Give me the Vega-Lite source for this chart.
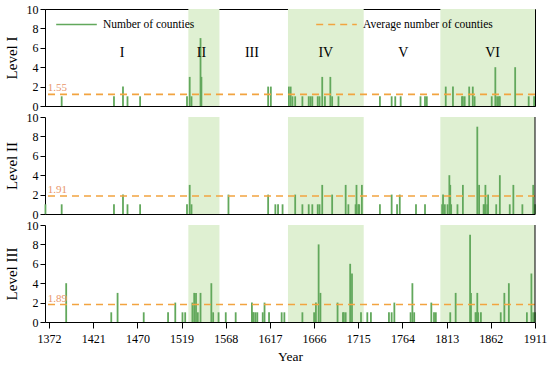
{
  "$schema": "https://vega.github.io/schema/vega-lite/v6.json",
  "padding": {"left": 3, "top": 2, "right": 5, "bottom": 2},
  "bounds": "flush",
  "config": {
    "font": "Liberation Serif",
    "axis": {"labelColor": "black", "titleColor": "black", "domainColor": "black", "tickColor": "black", "labelFont": "Liberation Serif", "titleFont": "Liberation Serif", "grid": false, "labelOverlap": false},
    "legend": {"labelFont": "Liberation Serif"}
  },
  "datasets": {
    "bars": [
      {"level": "I", "year": 1386, "count": 1}, {"level": "I", "year": 1444, "count": 1}, {"level": "I", "year": 1454, "count": 2}, {"level": "I", "year": 1459, "count": 1}, {"level": "I", "year": 1473, "count": 1}, {"level": "I", "year": 1525, "count": 1}, {"level": "I", "year": 1528, "count": 3}, {"level": "I", "year": 1530, "count": 1}, {"level": "I", "year": 1540, "count": 7}, {"level": "I", "year": 1541, "count": 3}, {"level": "I", "year": 1615, "count": 2}, {"level": "I", "year": 1618, "count": 2}, {"level": "I", "year": 1638, "count": 2}, {"level": "I", "year": 1640, "count": 2}, {"level": "I", "year": 1642, "count": 1}, {"level": "I", "year": 1645, "count": 1}, {"level": "I", "year": 1653, "count": 1}, {"level": "I", "year": 1660, "count": 1}, {"level": "I", "year": 1662, "count": 1}, {"level": "I", "year": 1664, "count": 1}, {"level": "I", "year": 1670, "count": 1}, {"level": "I", "year": 1672, "count": 1}, {"level": "I", "year": 1675, "count": 3}, {"level": "I", "year": 1678, "count": 1}, {"level": "I", "year": 1684, "count": 3}, {"level": "I", "year": 1686, "count": 1}, {"level": "I", "year": 1693, "count": 1}, {"level": "I", "year": 1739, "count": 1}, {"level": "I", "year": 1752, "count": 1}, {"level": "I", "year": 1756, "count": 1}, {"level": "I", "year": 1762, "count": 1}, {"level": "I", "year": 1784, "count": 1}, {"level": "I", "year": 1789, "count": 1}, {"level": "I", "year": 1791, "count": 1}, {"level": "I", "year": 1812, "count": 2}, {"level": "I", "year": 1820, "count": 2}, {"level": "I", "year": 1830, "count": 1}, {"level": "I", "year": 1831, "count": 1}, {"level": "I", "year": 1833, "count": 1}, {"level": "I", "year": 1838, "count": 2}, {"level": "I", "year": 1842, "count": 2}, {"level": "I", "year": 1844, "count": 1}, {"level": "I", "year": 1863, "count": 1}, {"level": "I", "year": 1867, "count": 4}, {"level": "I", "year": 1869, "count": 1}, {"level": "I", "year": 1871, "count": 1}, {"level": "I", "year": 1872, "count": 1}, {"level": "I", "year": 1889, "count": 4}, {"level": "I", "year": 1904, "count": 1}, {"level": "I", "year": 1910, "count": 1},
      {"level": "II", "year": 1368, "count": 1}, {"level": "II", "year": 1386, "count": 1}, {"level": "II", "year": 1444, "count": 1}, {"level": "II", "year": 1454, "count": 2}, {"level": "II", "year": 1459, "count": 1}, {"level": "II", "year": 1473, "count": 1}, {"level": "II", "year": 1525, "count": 1}, {"level": "II", "year": 1528, "count": 3}, {"level": "II", "year": 1530, "count": 1}, {"level": "II", "year": 1571, "count": 2}, {"level": "II", "year": 1615, "count": 2}, {"level": "II", "year": 1623, "count": 1}, {"level": "II", "year": 1626, "count": 1}, {"level": "II", "year": 1631, "count": 1}, {"level": "II", "year": 1645, "count": 2}, {"level": "II", "year": 1653, "count": 1}, {"level": "II", "year": 1660, "count": 1}, {"level": "II", "year": 1664, "count": 1}, {"level": "II", "year": 1670, "count": 1}, {"level": "II", "year": 1672, "count": 1}, {"level": "II", "year": 1675, "count": 3}, {"level": "II", "year": 1686, "count": 2}, {"level": "II", "year": 1701, "count": 3}, {"level": "II", "year": 1704, "count": 1}, {"level": "II", "year": 1712, "count": 1}, {"level": "II", "year": 1713, "count": 3}, {"level": "II", "year": 1715, "count": 1}, {"level": "II", "year": 1716, "count": 1}, {"level": "II", "year": 1719, "count": 3}, {"level": "II", "year": 1739, "count": 1}, {"level": "II", "year": 1752, "count": 2}, {"level": "II", "year": 1758, "count": 1}, {"level": "II", "year": 1761, "count": 2}, {"level": "II", "year": 1779, "count": 1}, {"level": "II", "year": 1789, "count": 1}, {"level": "II", "year": 1808, "count": 1}, {"level": "II", "year": 1809, "count": 2}, {"level": "II", "year": 1811, "count": 1}, {"level": "II", "year": 1814, "count": 1}, {"level": "II", "year": 1816, "count": 4}, {"level": "II", "year": 1817, "count": 3}, {"level": "II", "year": 1818, "count": 1}, {"level": "II", "year": 1825, "count": 1}, {"level": "II", "year": 1831, "count": 3}, {"level": "II", "year": 1847, "count": 9}, {"level": "II", "year": 1849, "count": 3}, {"level": "II", "year": 1854, "count": 1}, {"level": "II", "year": 1855, "count": 1}, {"level": "II", "year": 1856, "count": 3}, {"level": "II", "year": 1858, "count": 1}, {"level": "II", "year": 1859, "count": 2}, {"level": "II", "year": 1868, "count": 1}, {"level": "II", "year": 1872, "count": 4}, {"level": "II", "year": 1883, "count": 1}, {"level": "II", "year": 1887, "count": 3}, {"level": "II", "year": 1897, "count": 1}, {"level": "II", "year": 1909, "count": 3}, {"level": "II", "year": 1911, "count": 1},
      {"level": "III", "year": 1391, "count": 4}, {"level": "III", "year": 1441, "count": 1}, {"level": "III", "year": 1448, "count": 3}, {"level": "III", "year": 1477, "count": 1}, {"level": "III", "year": 1504, "count": 1}, {"level": "III", "year": 1512, "count": 2}, {"level": "III", "year": 1520, "count": 1}, {"level": "III", "year": 1523, "count": 1}, {"level": "III", "year": 1531, "count": 2}, {"level": "III", "year": 1533, "count": 3}, {"level": "III", "year": 1535, "count": 3}, {"level": "III", "year": 1537, "count": 1}, {"level": "III", "year": 1540, "count": 3}, {"level": "III", "year": 1552, "count": 4}, {"level": "III", "year": 1554, "count": 1}, {"level": "III", "year": 1560, "count": 1}, {"level": "III", "year": 1568, "count": 1}, {"level": "III", "year": 1579, "count": 1}, {"level": "III", "year": 1597, "count": 2}, {"level": "III", "year": 1598, "count": 1}, {"level": "III", "year": 1599, "count": 1}, {"level": "III", "year": 1601, "count": 1}, {"level": "III", "year": 1603, "count": 1}, {"level": "III", "year": 1609, "count": 1}, {"level": "III", "year": 1611, "count": 2}, {"level": "III", "year": 1616, "count": 1}, {"level": "III", "year": 1630, "count": 1}, {"level": "III", "year": 1633, "count": 1}, {"level": "III", "year": 1653, "count": 1}, {"level": "III", "year": 1666, "count": 1}, {"level": "III", "year": 1668, "count": 2}, {"level": "III", "year": 1671, "count": 8}, {"level": "III", "year": 1673, "count": 3}, {"level": "III", "year": 1692, "count": 2}, {"level": "III", "year": 1698, "count": 1}, {"level": "III", "year": 1699, "count": 1}, {"level": "III", "year": 1701, "count": 1}, {"level": "III", "year": 1706, "count": 6}, {"level": "III", "year": 1708, "count": 5}, {"level": "III", "year": 1718, "count": 1}, {"level": "III", "year": 1725, "count": 1}, {"level": "III", "year": 1729, "count": 1}, {"level": "III", "year": 1749, "count": 1}, {"level": "III", "year": 1752, "count": 1}, {"level": "III", "year": 1755, "count": 2}, {"level": "III", "year": 1773, "count": 1}, {"level": "III", "year": 1775, "count": 4}, {"level": "III", "year": 1777, "count": 1}, {"level": "III", "year": 1796, "count": 2}, {"level": "III", "year": 1799, "count": 1}, {"level": "III", "year": 1801, "count": 1}, {"level": "III", "year": 1817, "count": 1}, {"level": "III", "year": 1823, "count": 3}, {"level": "III", "year": 1839, "count": 9}, {"level": "III", "year": 1840, "count": 3}, {"level": "III", "year": 1845, "count": 1}, {"level": "III", "year": 1846, "count": 1}, {"level": "III", "year": 1847, "count": 3}, {"level": "III", "year": 1848, "count": 1}, {"level": "III", "year": 1851, "count": 1}, {"level": "III", "year": 1873, "count": 1}, {"level": "III", "year": 1877, "count": 3}, {"level": "III", "year": 1882, "count": 4}, {"level": "III", "year": 1902, "count": 1}, {"level": "III", "year": 1907, "count": 5}, {"level": "III", "year": 1909, "count": 1}, {"level": "III", "year": 1911, "count": 1}
    ],
    "avg": [
      {"level": "I", "avg": 1.2, "label": "1.55"},
      {"level": "II", "avg": 1.85, "label": "1.91"},
      {"level": "III", "avg": 1.8, "label": "1.89"}
    ],
    "periods": [
      {"period": "II", "start": 1526.5, "end": 1561},
      {"period": "IV", "start": 1637, "end": 1721},
      {"period": "VI", "start": 1806, "end": 1911}
    ],
    "numerals": [
      {"label": "I", "year": 1453, "y": 5.5},
      {"label": "II", "year": 1541, "y": 5.5},
      {"label": "III", "year": 1597, "y": 5.5},
      {"label": "IV", "year": 1679, "y": 5.5},
      {"label": "V", "year": 1765, "y": 5.5},
      {"label": "VI", "year": 1864, "y": 5.5}
    ]
  },
  "spacing": 11,
  "vconcat": [
    {
      "width": 490, "height": 97,
      "view": {"stroke": "black", "strokeWidth": 1},
      "layer": [
        {"data": {"name": "periods"}, "mark": {"type": "rect", "color": "#dff0d2"},
         "encoding": {"x": {"field": "start", "type": "quantitative", "scale": {"domain": [1367.5, 1911], "nice": false, "zero": false}, "axis": {"labels": false, "ticks": false, "title": null}}, "x2": {"field": "end"}}},
        {"data": {"name": "bars"}, "transform": [{"filter": "datum.level === 'I'"}],
         "mark": {"type": "rule", "strokeWidth": 1.8},
         "encoding": {
           "x": {"field": "year", "type": "quantitative"},
           "y": {"field": "count", "type": "quantitative", "scale": {"domain": [0, 10]}, "axis": {"values": [0, 2, 4, 6, 8, 10], "labelOverlap": false, "title": "Level I", "titleFontSize": 15, "titleFontWeight": "normal", "titlePadding": 7, "labelFontSize": 12, "labelPadding": 2, "tickSize": 5}},
           "y2": {"datum": 0},
           "color": {"datum": "Number of counties", "type": "nominal", "scale": {"domain": ["Number of counties", "Average number of counties"], "range": ["#62a85c", "#f2a440"]},
             "legend": {"title": null, "orient": "none", "legendX": 10, "legendY": -6, "direction": "horizontal", "symbolType": "stroke", "symbolSize": 1650, "symbolStrokeWidth": 1.6, "labelFontSize": 11.5, "labelOffset": 5, "columnPadding": 117, "labelColor": "black",
               "encode": {"symbols": {"update": {"strokeDash": {"signal": "datum.value === 'Average number of counties' ? [7, 5] : [1, 0]"}}}}}}
         }},
        {"data": {"name": "avg"}, "transform": [{"filter": "datum.level === 'I'"}],
         "mark": {"type": "rule", "strokeDash": [7, 5], "strokeWidth": 1.6},
         "encoding": {"y": {"field": "avg", "type": "quantitative", "axis": {"values": [0, 2, 4, 6, 8, 10], "labelOverlap": false, "title": "Level I", "titleFontSize": 15, "titleFontWeight": "normal", "titlePadding": 7, "labelFontSize": 12, "labelPadding": 2, "tickSize": 5}}, "color": {"datum": "Average number of counties", "type": "nominal"}}},
        {"data": {"name": "avg"}, "transform": [{"filter": "datum.level === 'I'"}],
         "mark": {"type": "text", "align": "left", "baseline": "bottom", "dy": -1, "fontSize": 11, "color": "#e8956a"},
         "encoding": {"x": {"datum": 1370.5, "type": "quantitative"}, "y": {"field": "avg", "type": "quantitative", "axis": {"values": [0, 2, 4, 6, 8, 10], "labelOverlap": false, "title": "Level I", "titleFontSize": 15, "titleFontWeight": "normal", "titlePadding": 7, "labelFontSize": 12, "labelPadding": 2, "tickSize": 5}}, "text": {"field": "label"}}},
        {"data": {"name": "numerals"},
         "mark": {"type": "text", "fontSize": 14, "color": "black"},
         "encoding": {"x": {"field": "year", "type": "quantitative"}, "y": {"field": "y", "type": "quantitative", "axis": {"values": [0, 2, 4, 6, 8, 10], "labelOverlap": false, "title": "Level I", "titleFontSize": 15, "titleFontWeight": "normal", "titlePadding": 7, "labelFontSize": 12, "labelPadding": 2, "tickSize": 5}}, "text": {"field": "label"}}}
      ]
    },
    {
      "width": 490, "height": 97,
      "view": {"stroke": null},
      "layer": [
        {"data": {"name": "periods"}, "mark": {"type": "rect", "color": "#dff0d2"},
         "encoding": {"x": {"field": "start", "type": "quantitative", "scale": {"domain": [1367.5, 1911], "nice": false, "zero": false}, "axis": {"labels": false, "ticks": false, "title": null}}, "x2": {"field": "end"}}},
        {"data": {"name": "bars"}, "transform": [{"filter": "datum.level === 'II'"}],
         "mark": {"type": "rule", "strokeWidth": 1.8, "color": "#62a85c"},
         "encoding": {
           "x": {"field": "year", "type": "quantitative"},
           "y": {"field": "count", "type": "quantitative", "scale": {"domain": [0, 10]}, "axis": {"values": [0, 2, 4, 6, 8, 10], "labelOverlap": false, "title": "Level II", "titleFontSize": 15, "titleFontWeight": "normal", "titlePadding": 7, "labelFontSize": 12, "labelPadding": 2, "tickSize": 5}},
           "y2": {"datum": 0}
         }},
        {"data": {"name": "avg"}, "transform": [{"filter": "datum.level === 'II'"}],
         "mark": {"type": "rule", "strokeDash": [7, 5], "strokeWidth": 1.6, "color": "#f2a440"},
         "encoding": {"y": {"field": "avg", "type": "quantitative", "axis": {"values": [0, 2, 4, 6, 8, 10], "labelOverlap": false, "title": "Level II", "titleFontSize": 15, "titleFontWeight": "normal", "titlePadding": 7, "labelFontSize": 12, "labelPadding": 2, "tickSize": 5}}}},
        {"data": {"name": "avg"}, "transform": [{"filter": "datum.level === 'II'"}],
         "mark": {"type": "text", "align": "left", "baseline": "bottom", "dy": -1, "fontSize": 11, "color": "#e8956a"},
         "encoding": {"x": {"datum": 1370.5, "type": "quantitative"}, "y": {"field": "avg", "type": "quantitative", "axis": {"values": [0, 2, 4, 6, 8, 10], "labelOverlap": false, "title": "Level II", "titleFontSize": 15, "titleFontWeight": "normal", "titlePadding": 7, "labelFontSize": 12, "labelPadding": 2, "tickSize": 5}}, "text": {"field": "label"}}},
        {"data": {"name": "avg"}, "transform": [{"filter": "datum.level === 'II'"}],
         "mark": {"type": "rule", "color": "black", "strokeWidth": 1}, "encoding": {"x": {"datum": 1911, "type": "quantitative"}}}
      ]
    },
    {
      "width": 490, "height": 97,
      "view": {"stroke": null},
      "layer": [
        {"data": {"name": "periods"}, "mark": {"type": "rect", "color": "#dff0d2"},
         "encoding": {"x": {"field": "start", "type": "quantitative", "scale": {"domain": [1367.5, 1911], "nice": false, "zero": false},
           "axis": {"values": [1372, 1421, 1470, 1519, 1568, 1617, 1666, 1715, 1764, 1813, 1862, 1911], "format": "d", "labelOverlap": false, "title": "Year", "titleFontSize": 13.5, "titleFontWeight": "normal", "titlePadding": 5, "labelFontSize": 12, "labelPadding": 5, "tickSize": 6, "labelFlush": false}},
           "x2": {"field": "end"}}},
        {"data": {"name": "bars"}, "transform": [{"filter": "datum.level === 'III'"}],
         "mark": {"type": "rule", "strokeWidth": 1.8, "color": "#62a85c"},
         "encoding": {
           "x": {"field": "year", "type": "quantitative"},
           "y": {"field": "count", "type": "quantitative", "scale": {"domain": [0, 10]}, "axis": {"values": [0, 2, 4, 6, 8, 10], "labelOverlap": false, "title": "Level III", "titleFontSize": 15, "titleFontWeight": "normal", "titlePadding": 7, "labelFontSize": 12, "labelPadding": 2, "tickSize": 5}},
           "y2": {"datum": 0}
         }},
        {"data": {"name": "avg"}, "transform": [{"filter": "datum.level === 'III'"}],
         "mark": {"type": "rule", "strokeDash": [7, 5], "strokeWidth": 1.6, "color": "#f2a440"},
         "encoding": {"y": {"field": "avg", "type": "quantitative", "axis": {"values": [0, 2, 4, 6, 8, 10], "labelOverlap": false, "title": "Level III", "titleFontSize": 15, "titleFontWeight": "normal", "titlePadding": 7, "labelFontSize": 12, "labelPadding": 2, "tickSize": 5}}}},
        {"data": {"name": "avg"}, "transform": [{"filter": "datum.level === 'III'"}],
         "mark": {"type": "text", "align": "left", "baseline": "bottom", "dy": -1, "fontSize": 11, "color": "#e8956a"},
         "encoding": {"x": {"datum": 1370.5, "type": "quantitative"}, "y": {"field": "avg", "type": "quantitative", "axis": {"values": [0, 2, 4, 6, 8, 10], "labelOverlap": false, "title": "Level III", "titleFontSize": 15, "titleFontWeight": "normal", "titlePadding": 7, "labelFontSize": 12, "labelPadding": 2, "tickSize": 5}}, "text": {"field": "label"}}},
        {"data": {"name": "avg"}, "transform": [{"filter": "datum.level === 'III'"}],
         "mark": {"type": "rule", "color": "black", "strokeWidth": 1}, "encoding": {"x": {"datum": 1911, "type": "quantitative"}}}
      ]
    }
  ]
}
